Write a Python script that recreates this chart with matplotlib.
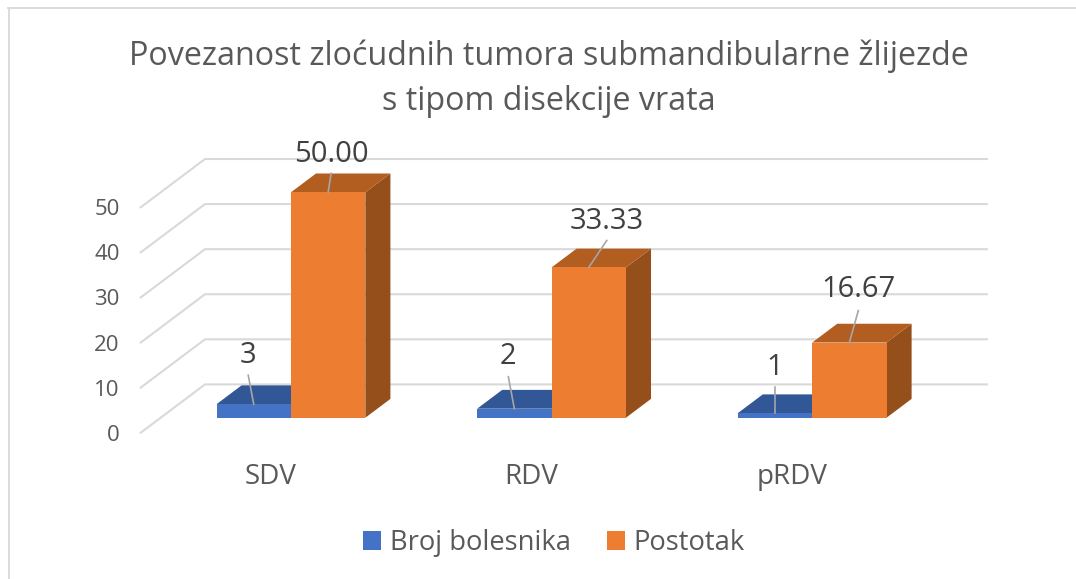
import matplotlib
matplotlib.use("Agg")
import matplotlib.pyplot as plt
from matplotlib.patches import Polygon, Patch, Rectangle
from matplotlib.lines import Line2D

# ---------- data ----------
categories = ["SDV", "RDV", "pRDV"]
series_names = ["Broj bolesnika", "Postotak"]
broj_bolesnika = [3, 2, 1]
postotak = [50.00, 33.33, 16.67]
broj_labels = ["3", "2", "1"]
postotak_labels = ["50.00", "33.33", "16.67"]
y_ticks = [0, 10, 20, 30, 40, 50]
title_text = "Povezanost zloćudnih tumora submandibularne žlijezde\ns tipom disekcije vrata"

# ---------- style / layout ----------
W, H = 1076, 579
FONT = "Open Sans"
plt.rcParams["font.family"] = [FONT, "DejaVu Sans"]
GRID = "#D9D9D9"
TEXT = "#595959"
LABEL = "#404040"
COL = {"Broj bolesnika": ("#4472C4", "#325796", "#2B4A80"),
       "Postotak": ("#ED7D31", "#B25E21", "#954F1B")}

fig = plt.figure(figsize=(W / 100, H / 100), dpi=100, facecolor="white")
LEFT, RIGHT, Y0, Y50 = 140.7, 922.5, 432.7, 207.3
ax = fig.add_axes([LEFT / W, 1 - Y0 / H, (RIGHT - LEFT) / W, (Y0 - Y50) / H])
ax.set_xlim(-0.5, 2.5)
ax.set_ylim(0, 50)
ax.patch.set_alpha(0)
for s in ax.spines.values():
    s.set_visible(False)

ux = 3 / (RIGHT - LEFT)      # data units per pixel, x
uy = 50 / (Y0 - Y50)         # data units per pixel, y
DEPTH_X, DEPTH_Y = 64.3 * ux, 48.3 * uy
D_FRONT, D_BACK = 0.31, 0.70
BAR_W = 74.4 * ux
dx = (D_BACK - D_FRONT) * DEPTH_X
dy = (D_BACK - D_FRONT) * DEPTH_Y
fx = D_FRONT * DEPTH_X
fy = D_FRONT * DEPTH_Y

# frame of the chart area
fig.add_artist(Line2D([8.5 / W, 8.5 / W], [0, 1 - 7.5 / H], color=GRID, lw=1.3))
fig.add_artist(Line2D([8 / W, 1], [1 - 7.5 / H, 1 - 7.5 / H], color=GRID, lw=1.3))

# walls
for v in y_ticks:
    ax.plot([-0.5, -0.5 + DEPTH_X, 2.5 + DEPTH_X],
            [v, v + DEPTH_Y, v + DEPTH_Y],
            color=GRID, lw=1.5, clip_on=False, zorder=1, solid_joinstyle="miter")


def draw_bar(x_left, val, colors):
    xl = x_left + fx
    xr = xl + BAR_W
    y0 = fy
    y1 = val + fy
    front, top, side = colors
    ax.add_patch(Polygon([(xr, y0), (xr + dx, y0 + dy), (xr + dx, y1 + dy), (xr, y1)],
                         fc=side, ec="none", clip_on=False, zorder=2))
    ax.add_patch(Polygon([(xl, y1), (xl + dx, y1 + dy), (xr + dx, y1 + dy), (xr, y1)],
                         fc=top, ec="none", clip_on=False, zorder=2))
    ax.add_patch(Rectangle((xl, y0), BAR_W, val, fc=front, ec="none", clip_on=False, zorder=3))
    return xl + BAR_W / 2, y1


# (leader end dx, dy, label dx, dy) in pixels from the top-front centre of the bar
label_offsets = {
    "Broj bolesnika": [(-5.5, 29, -6, 49), (-6, 32, -6, 52), (0, 26, 0, 46)],
    "Postotak": [(3, 19, 3, 37.5), (18, 27, 18, 46), (9, 32, 9, 52.6)],
}

for i, cat in enumerate(categories):
    for j, (name, vals, labs) in enumerate(((series_names[0], broj_bolesnika, broj_labels),
                                            (series_names[1], postotak, postotak_labels))):
        xc, yt = draw_bar(i - BAR_W + j * BAR_W, vals[i], COL[name])
        ldx, ldy, tdx, tdy = label_offsets[name][i]
        ax.plot([xc, xc + ldx * ux], [yt, yt + ldy * uy], color="#A6A6A6", lw=1.2,
                clip_on=False, zorder=4)
        ax.text(xc + tdx * ux, yt + tdy * uy, labs[i], ha="center", va="center",
                fontsize=21, color=LABEL, zorder=5)

# axis labels
ax.set_yticks(y_ticks)
ax.set_xticks(range(len(categories)))
ax.set_xticklabels(categories)
ax.tick_params(axis="y", length=0, pad=15, labelsize=16, labelcolor=TEXT)
ax.tick_params(axis="x", length=0, pad=22, labelsize=20, labelcolor=TEXT)
for lab in ax.get_yticklabels():
    lab.set_verticalalignment("center_baseline")

# title
fig.suptitle(title_text, x=549 / W, y=1 - 78.5 / H, va="center", ha="center",
             fontsize=23.2, color=TEXT, linespacing=1.49)

# legend
handles = [Patch(fc=COL[n][0], ec="none") for n in series_names]
fig.legend(handles, series_names, loc="center", bbox_to_anchor=(554 / W, 1 - 543 / H),
           ncol=2, frameon=False, fontsize=19.7, labelcolor=TEXT,
           handlelength=0.66, handleheight=0.66, handletextpad=0.33, columnspacing=1.3)

fig.savefig("out.png", dpi=100, facecolor="white")
